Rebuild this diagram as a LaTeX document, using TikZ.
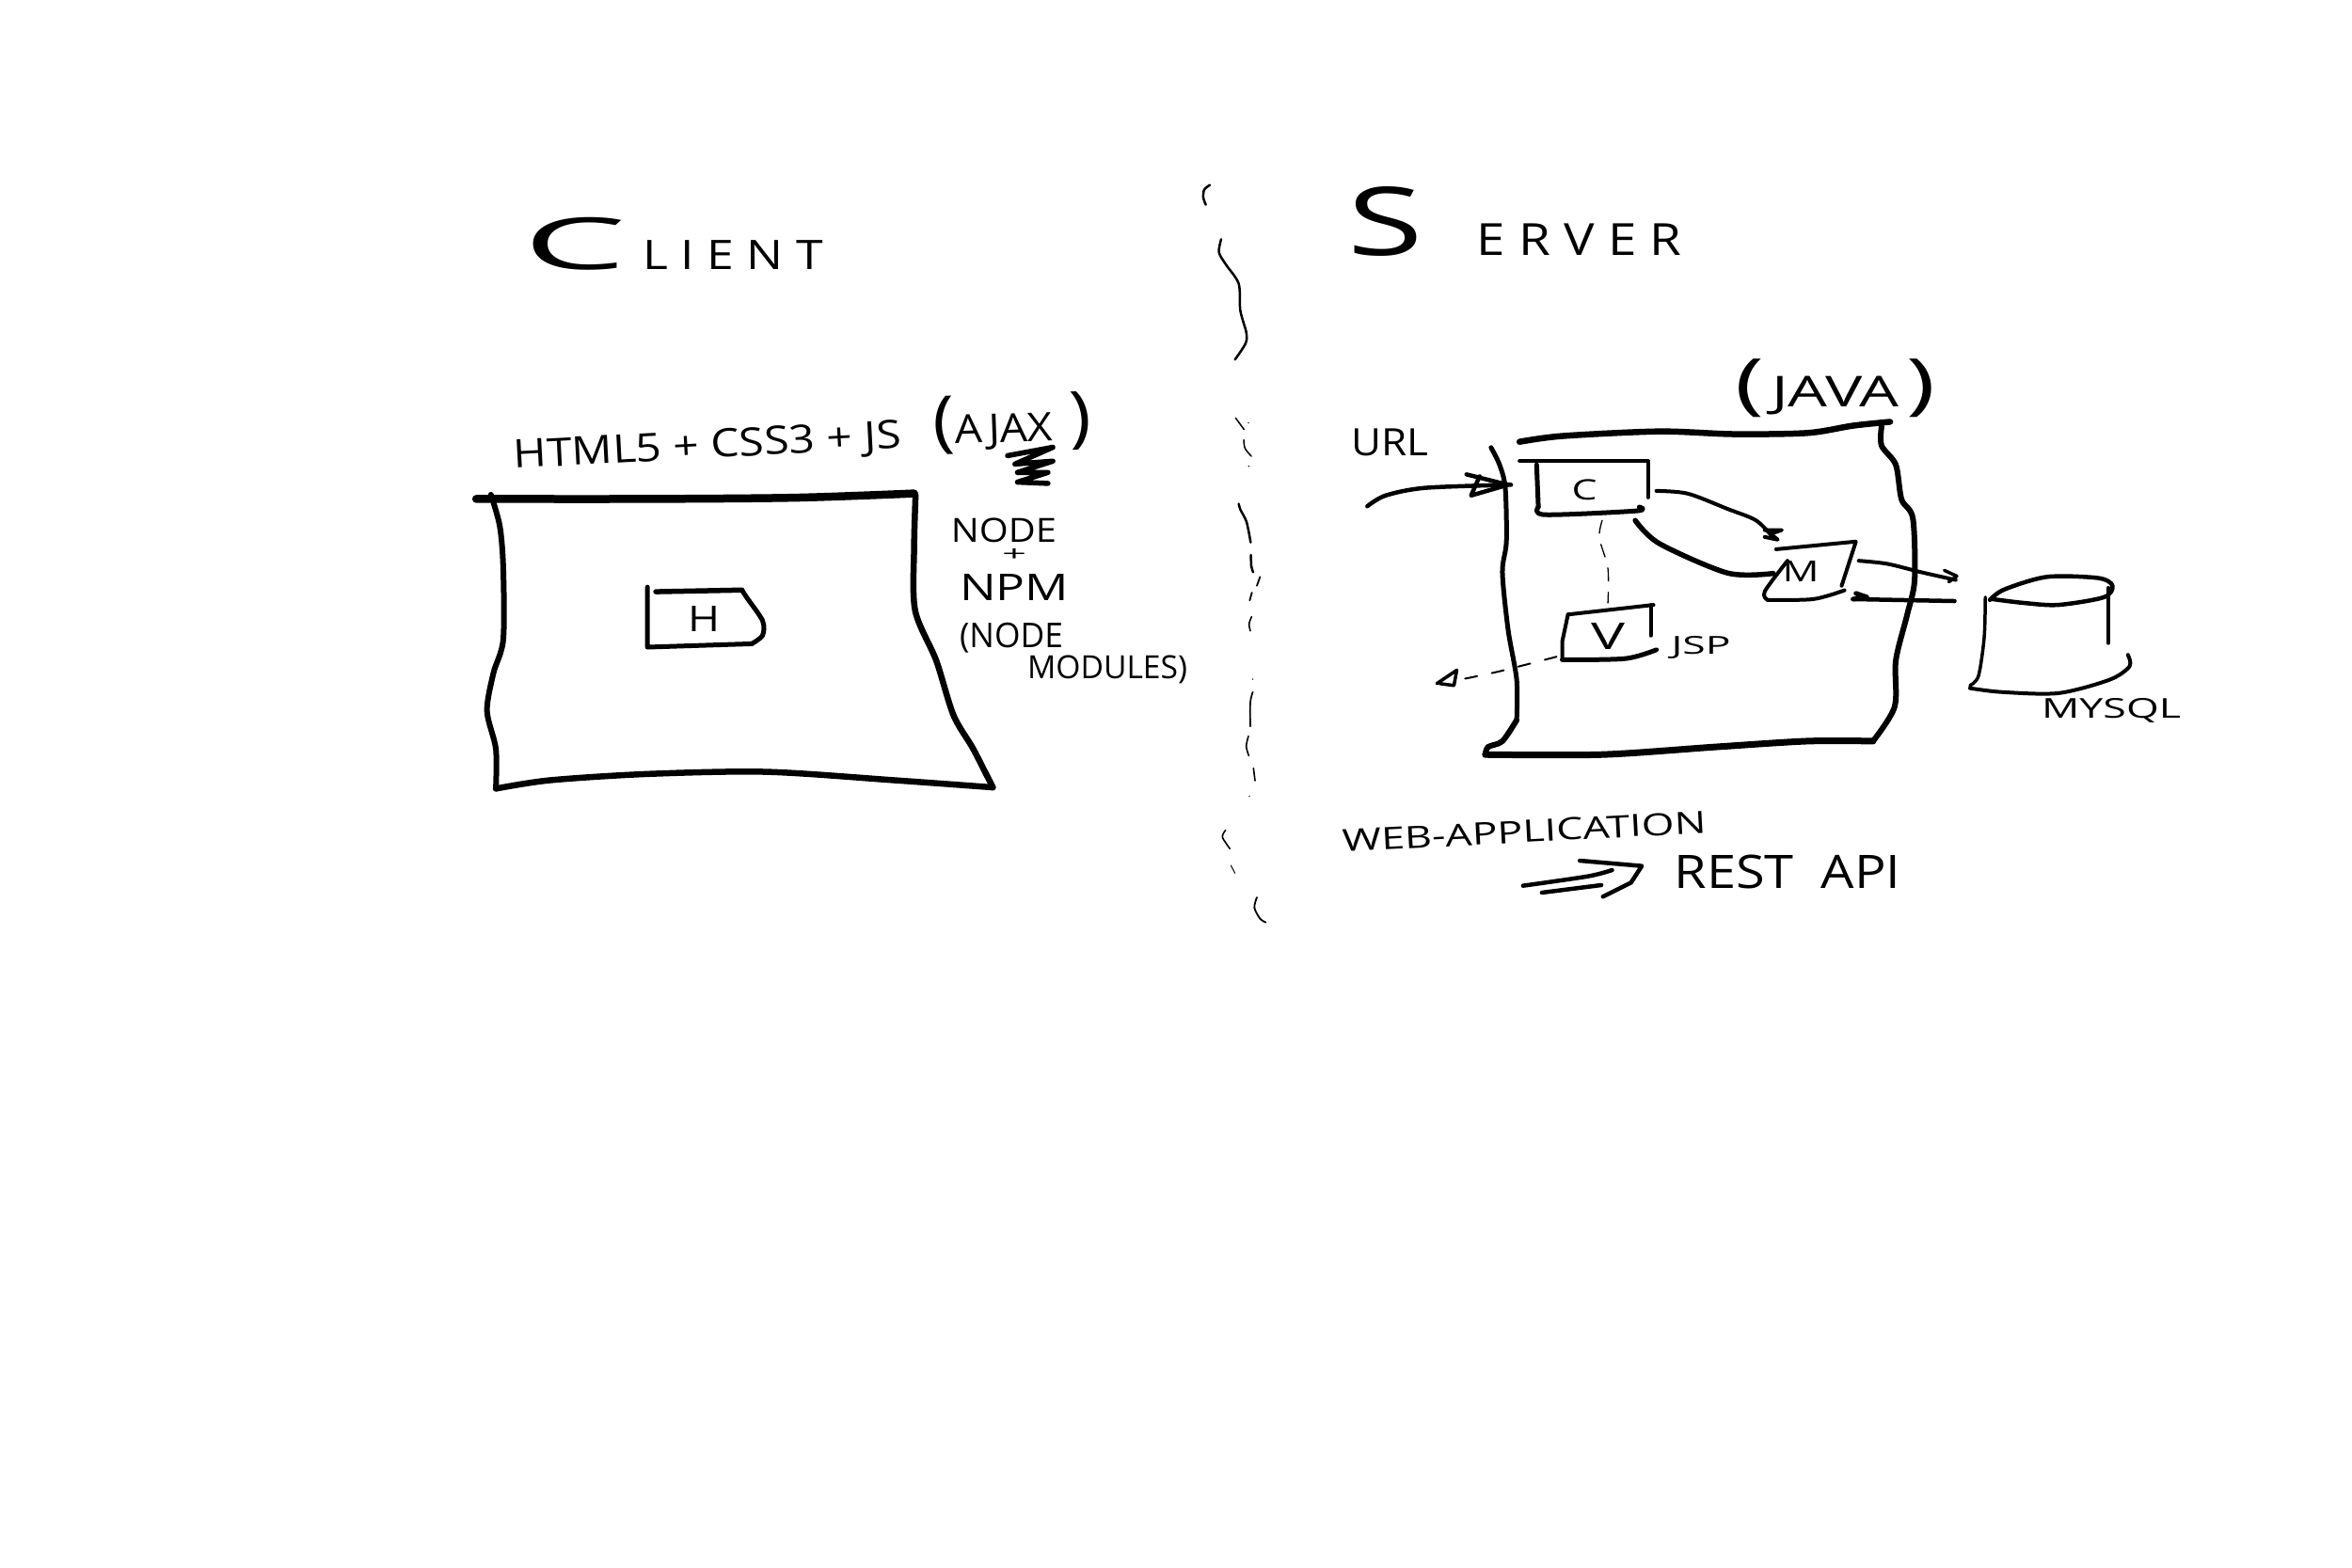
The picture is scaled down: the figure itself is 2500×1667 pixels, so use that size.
\documentclass[tikz,border=0pt]{standalone}
\usepackage{fontspec}
\usepackage{graphicx}
\setmainfont{Open Sans}
\newcommand{\fitto}[3]{\resizebox*{#1pt}{#2pt}{#3}}
\tikzset{
  ink/.style={draw=black,line cap=round,line join=round,line width=#1},
  ink/.default=3pt,
  soft/.style={smooth,tension=0.5},
  hand/.style={inner sep=0pt,outer sep=0pt,text=black,anchor=center},
  zoomA/.style={shift={(480,180)},x=0.523pt,y=-0.4464pt},
  zoomB/.style={shift={(1400,180)},x=0.606pt,y=-0.408pt},
  zoomC/.style={shift={(1240,780)},x=0.574pt,y=-0.3333pt},
  zoomD/.style={shift={(1250,190)},x=0.3333pt,y=-0.3333pt},
  zoomE/.style={shift={(1250,590)},x=0.3333pt,y=-0.3333pt}
}
\begin{document}
\begin{tikzpicture}[x=1pt,y=-1pt]
\path[fill=white,use as bounding box] (0,0) rectangle (2500,1667);

% ---- headings and labels
\node[hand] (client) at (716,259) {\fitto{318}{56}{{\fontsize{30}{30}\selectfont\scalebox{1.9}[1]{C}}{\fontsize{17}{17}\selectfont\,\,L I E N T}}};
\node[hand] (server) at (1610,235) {\fitto{355}{74}{{\fontsize{30}{30}\selectfont\scalebox{1.25}[1]{S}}{\fontsize{14}{14}\selectfont\ \ \ \ E R V E R}}};
\node[hand,rotate=3] (stack) at (752,476) {\fitto{412}{38}{HTML5 + CSS3 + JS}};
\node[hand,rotate=2] (ajax) at (1076,450) {\fitto{168}{62}{{\fontsize{22}{22}\selectfont(}{\fontsize{13}{13}\selectfont AJAX}\,\,\,{\fontsize{22}{22}\selectfont)}}};
\node[hand] (nodelbl) at (1067,564) {\fitto{112}{26}{NODE}};
\node[hand] (pluslbl) at (1078,590) {\fitto{26}{13}{+}};
\node[hand] (npm) at (1078,624) {\fitto{116}{28}{NPM}};
\node[hand] (nodemod) at (1075,678) {\fitto{110}{32}{(NODE}};
\node[hand] (modules) at (1177,712) {\fitto{170}{30}{MODULES)}};
\node[hand] (hlbl) at (748,658) {\fitto{34}{27}{H}};
\node[hand] (urllbl) at (1477,470) {\fitto{82}{29}{URL}};
\node[hand] (java) at (1951,413) {\fitto{213}{62}{{\fontsize{22}{22}\selectfont(}\,{\fontsize{14}{14}\selectfont JAVA}\,{\fontsize{22}{22}\selectfont)}}};
\node[hand] (clbl) at (1684,521) {\fitto{27}{22}{C}};
\node[hand] (mlbl) at (1914,607) {\fitto{39}{22}{M}};
\node[hand] (vlbl) at (1709,676) {\fitto{36}{28}{V}};
\node[hand] (jsp) at (1808,688) {\fitto{63}{24}{JSP}};
\node[hand] (mysql) at (2244,755) {\fitto{148}{26}{MYSQL}};
\node[hand,rotate=3] (webapp) at (1620,884) {\fitto{387}{24}{WEB-APPLICATION}};
\node[hand] (rest) at (1900,927) {\fitto{241}{36}{REST\ \ API}};

% ---- client
\begin{scope}[zoomA]
\draw[ink=8.5pt] plot[soft] coordinates {(50,785) (400,785) (700,782) (940,772)};
\draw[ink=6.5pt] plot[soft] coordinates {(943,775) (940,900) (942,1050) (985,1170) (1020,1300) (1060,1380) (1100,1472)};
\draw[ink=6.5pt] plot[soft] coordinates {(1100,1472) (900,1455) (640,1435) (400,1440) (200,1455) (90,1475)};
\draw[ink=6pt] plot[soft] coordinates {(90,1475) (90,1380) (72,1290) (85,1200) (105,1120) (105,950) (98,850) (80,775)};
\draw[ink=5pt] (398,995) -- (398,1138) -- (610,1130);
\draw[ink=5pt] plot[soft] coordinates {(610,1130) (632,1110) (632,1075) (600,1020) (590,1002)};
\draw[ink=5.5pt] (590,1002) -- (415,1006);
\draw[ink=5.5pt] (1130,682) -- (1222,662) -- (1145,702) -- (1222,695) -- (1150,722) -- (1212,722) -- (1150,745) -- (1212,748);
\end{scope}

% ---- server
\begin{scope}[zoomB]
\draw[ink=6.5pt] plot[soft] coordinates {(355,710) (430,695) (600,683) (730,690) (860,687) (940,668) (1005,658)};
\draw[ink=6pt] plot[soft] coordinates {(990,670) (990,720) (1015,770) (1025,860) (1045,910) (1048,1070) (1035,1160) (1015,1280) (1013,1400) (975,1490)};
\draw[ink=7pt] plot[soft] coordinates {(975,1490) (860,1490) (700,1505) (500,1525) (295,1525)};
\draw[ink=6pt] plot[soft] coordinates {(295,1525) (300,1505) (325,1490) (350,1435)};
\draw[ink=5pt] plot[soft] coordinates {(350,1435) (350,1330) (335,1200) (325,1050) (332,970) (330,830) (320,770) (305,725)};
% controller box
\draw[ink=4pt] (355,760) -- (580,760) -- (580,855);
\draw[ink=5pt] (385,770) -- (388,880);
\draw[ink=5pt] plot[soft] coordinates {(388,880) (400,900) (560,890) (565,880)};
% model box
\draw[ink=4pt] (805,990) -- (945,970) -- (920,1085);
\draw[ink=4pt] plot[soft] coordinates {(925,1097) (870,1120) (790,1122)};
\draw[ink=4pt] plot[soft] coordinates {(790,1122) (785,1100) (825,1020)};
% view box
\draw[ink=4pt] (440,1160) -- (590,1135);
\draw[ink=4pt] (585,1135) -- (585,1215);
\draw[ink=4pt] (440,1160) -- (430,1230) -- (430,1278);
\draw[ink=5pt] plot[soft] coordinates {(430,1278) (540,1275) (595,1252)};
% named connector ends
\coordinate (urlin) at (88,878);
\coordinate (urlend) at (340,822);
\coordinate (cout) at (595,838);
\coordinate (cin) at (800,960);
\coordinate (cret) at (558,915);
\coordinate (mret) at (800,1053);
\coordinate (mout) at (950,1020);
\coordinate (dbin) at (1120,1070);
\coordinate (dbout) at (1118,1125);
\coordinate (min) at (940,1120);
\coordinate (cbot) at (500,915);
\coordinate (vtop) at (510,1130);
\coordinate (vleft) at (420,1270);
\coordinate (vexit) at (250,1330);
% connectors
\draw[ink=4.5pt] plot[soft] coordinates {(urlin) (120,850) (190,830) (urlend)};
\draw[ink=4.5pt] (262,795) -- (335,822) -- (270,850) -- (285,800);
\draw[ink=4pt] plot[soft] coordinates {(cout) (650,845) (720,885) (770,915) (cin)};
\draw[ink=4pt] (785,940) -- (815,940) -- (795,950) -- (808,965) -- (785,958);
\draw[ink=5.5pt] plot[soft] coordinates {(cret) (600,975) (720,1052) (mret)};
\draw[ink=4pt] plot[soft] coordinates {(mout) (1000,1028) (1060,1050) (dbin)};
\draw[ink=3.5pt] (1100,1045) -- (1122,1060) -- (1108,1075);
\draw[ink=4.5pt] (dbout) -- (min);
\draw[ink=5pt] (945,1105) -- (965,1115) -- (min);
\draw[ink=1.3pt,dash pattern=on 14pt off 12pt] plot[soft] coordinates {(cbot) (495,960) (510,1040) (vtop)};
\draw[ink=2pt,dash pattern=on 13pt off 16pt] plot[soft] coordinates {(vleft) (320,1308) (vexit)};
\draw[ink=3.5pt] (210,1340) -- (245,1305) -- (240,1345) -- (215,1340);
% database
\draw[ink=4.5pt] plot[soft] coordinates {(1180,1122) (1205,1095) (1280,1062) (1370,1065) (1395,1085) (1380,1115) (1300,1135) (1240,1130) (1185,1120)};
\draw[ink=3.5pt] plot[soft] coordinates {(1172,1115) (1170,1220) (1160,1320) (1145,1345)};
\draw[ink=3.5pt] (1388,1090) -- (1388,1235);
\draw[ink=4pt] plot[soft] coordinates {(1145,1352) (1200,1362) (1300,1365) (1390,1330) (1425,1295) (1422,1265)};
\end{scope}

% ---- double arrow
\begin{scope}[zoomC]
\draw[ink=4.5pt] plot[soft] coordinates {(660,485) (780,455) (825,435)};
\draw[ink=4.5pt] (695,507) -- (805,483);
\draw[ink=4.5pt] (765,405) -- (880,422) -- (860,475) -- (808,520);
\end{scope}

% ---- divider
\begin{scope}[zoomD]
\draw[ink=2.5pt] plot[soft] coordinates {(108,20) (90,35) (87,60) (95,83)};
\draw[ink=2.5pt] plot[soft] coordinates {(144,193) (137,235) (160,275) (200,335) (205,420) (224,490) (222,525) (188,577)};
\draw[ink=1.5pt] (190,763) -- (217,800);
\draw[ink=1.5pt] plot[soft] coordinates {(216,833) (220,860) (240,885)};
\fill (231,779) circle (0.8pt) (232,917) circle (0.8pt);
\draw[ink=2.5pt] plot[soft] coordinates {(200,1037) (205,1055) (225,1095) (238,1160)};
\end{scope}
\begin{scope}[zoomE]
\draw[ink=2.5pt] plot[soft] coordinates {(239,0) (240,35) (246,55)};
\draw[ink=1.8pt] (268,70) -- (258,98);
\draw[ink=1.8pt] (242,120) -- (235,145);
\draw[ink=1.6pt] plot[soft] coordinates {(241,197) (233,220) (237,242)};
\fill (245,396) circle (0.8pt) (234,770) circle (0.8pt);
\draw[ink=1.7pt] plot[soft] coordinates {(245,437) (237,470) (237,547)};
\draw[ink=1.6pt] plot[soft] coordinates {(231,578) (224,610) (232,640)};
\draw[ink=1.6pt] (247,680) -- (252,720);
\draw[ink=1.6pt] plot[soft] coordinates {(158,878) (148,900) (172,937)};
\draw[ink=1pt] (175,990) -- (188,1015);
\draw[ink=1.8pt] plot[soft] coordinates {(258,1092) (250,1125) (268,1160) (286,1172)};
\end{scope}
\end{tikzpicture}
\end{document}
